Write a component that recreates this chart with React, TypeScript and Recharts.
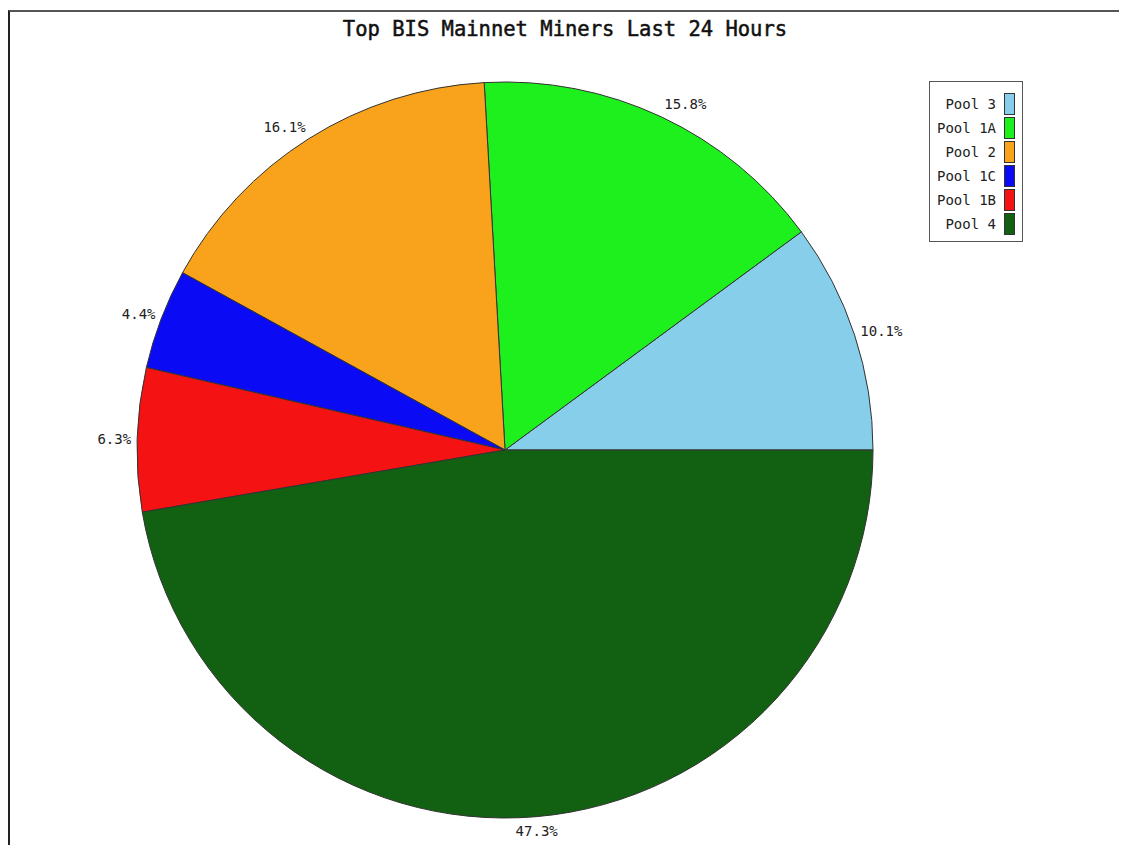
import { PieChart, Pie, Cell, Legend } from "recharts";

const pools = ["Pool 3", "Pool 1A", "Pool 2", "Pool 1C", "Pool 1B", "Pool 4"];
const shares = [10.1, 15.8, 16.1, 4.4, 6.3, 47.3];
const colors = ["#87ceeb", "#1ef01e", "#f9a31c", "#0a0af5", "#f51212", "#126112"];

const data = pools.map((name, i) => ({ name, value: shares[i] }));

const MONO = "'DejaVu Sans Mono', 'Liberation Mono', monospace";
const RADIAN = Math.PI / 180;

// Percent labels sit just outside the rim at each slice's mid angle,
// anchored away from the pie like the old GD-style renderer.
function renderLabel(props: any) {
  const { cx, cy, midAngle, outerRadius, value } = props;
  const r = outerRadius + 6;
  const cos = Math.cos(-midAngle * RADIAN);
  const sin = Math.sin(-midAngle * RADIAN);
  const x = cx + r * cos;
  const y = cy + r * sin + sin * 8;
  const anchor = cos > 0.3 ? "start" : cos < -0.3 ? "end" : "middle";
  return (
    <text
      x={x}
      y={y}
      textAnchor={anchor}
      dominantBaseline="central"
      fontFamily={MONO}
      fontSize={14}
      fill="#222"
    >
      {`${value}%`}
    </text>
  );
}

// keep the legend in slice order rather than recharts' default sort
function LegendBox({ payload }: any) {
  const items = [...(payload || [])].sort(
    (a: any, b: any) => pools.indexOf(a.value) - pools.indexOf(b.value)
  );
  return (
    <div
      style={{
        width: 94,
        height: 161,
        border: "1px solid #555",
        background: "#fff",
        paddingTop: 10,
        boxSizing: "border-box",
        fontFamily: MONO,
        fontSize: 14,
        color: "#222",
      }}
    >
      {items.map((p: any) => (
        <div
          key={p.value}
          style={{
            height: 24,
            display: "flex",
            alignItems: "center",
            justifyContent: "flex-end",
            paddingRight: 7,
          }}
        >
          <span style={{ marginRight: 8 }}>{p.value}</span>
          <span
            style={{
              width: 9,
              height: 20,
              background: p.color,
              border: "1px solid #333",
              display: "inline-block",
            }}
          />
        </div>
      ))}
    </div>
  );
}

export default function App() {
  return (
    <div
      style={{
        position: "relative",
        marginTop: 2,
        marginRight: -8,
        marginBottom: -8,
        width: 1117,
        height: 841,
        borderTop: "2px solid #555",
        borderLeft: "2px solid #222",
        background: "#fff",
        overflow: "hidden",
      }}
    >
      <div
        style={{
          position: "absolute",
          left: 0,
          width: 1110,
          top: 5,
          textAlign: "center",
          fontFamily: MONO,
          fontSize: 20.5,
          color: "#111",
          WebkitTextStroke: "0.5px #111",
        }}
      >
        Top BIS Mainnet Miners Last 24 Hours
      </div>
      <PieChart width={1117} height={841}>
        <Pie
          data={data}
          dataKey="value"
          nameKey="name"
          cx={490}
          cy={433}
          outerRadius={368}
          startAngle={0}
          endAngle={360}
          stroke="#333"
          strokeWidth={1}
          label={renderLabel}
          labelLine={false}
          isAnimationActive={false}
        >
          {data.map((d, i) => (
            <Cell key={d.name} fill={colors[i]} />
          ))}
        </Pie>
        <Legend
          content={<LegendBox />}
          layout="vertical"
          wrapperStyle={{ position: "absolute", left: 919, top: 69, width: 94 }}
        />
      </PieChart>
    </div>
  );
}
